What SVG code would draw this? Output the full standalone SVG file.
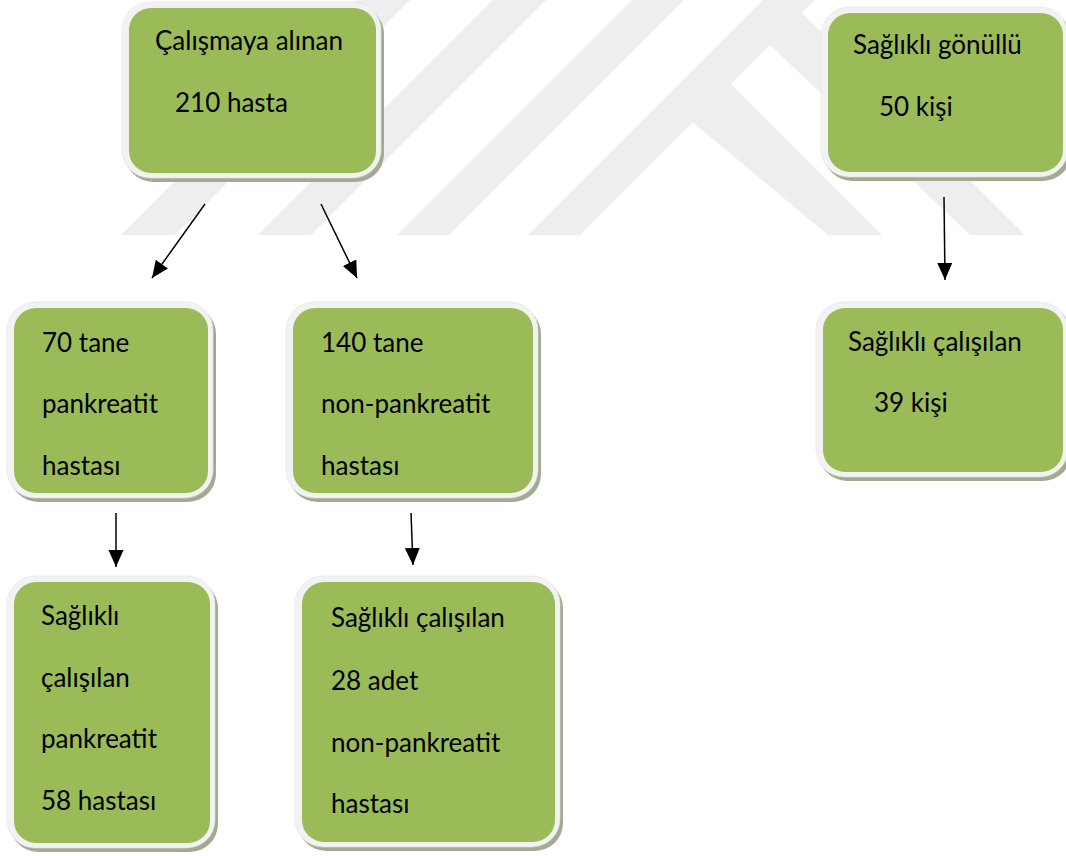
<svg xmlns="http://www.w3.org/2000/svg" width="1066" height="856" viewBox="0 0 1066 856">
<defs>
<style>
.wm{fill:#eeeeee}
.sh{fill:#a2aa90}
.fr{fill:#f2f2f2;stroke:#e2e2e2;stroke-width:0.6}
.gr{fill:#9bbb59}
.t{font-family:Lato,"Liberation Sans",sans-serif;font-size:26px;fill:#000000}
.ln{stroke:#000000;stroke-width:1.5;fill:none;marker-end:url(#ah)}
</style>
<marker id="ah" markerUnits="userSpaceOnUse" markerWidth="18" markerHeight="16" refX="17" refY="7.5" orient="auto">
<path d="M0,0 L17,7.5 L0,15 Z" fill="#000000"/>
</marker>
</defs>
<rect width="1066" height="856" fill="#ffffff"/>
<g id="watermark">
<polygon class="wm" points="356,0 410,0 175,235 121,235"/>
<polygon class="wm" points="493,0 546,0 311,235 258,235"/>
<polygon class="wm" points="632,0 684,0 449,235 397,235"/>
<polygon class="wm" points="763,0 815,0 580,235 528,235"/>
<polygon class="wm" points="700,107 731,84 882,235 828,235 690,120"/>
<polygon class="wm" points="770,45 802,13 1025,235 970,235"/>
</g>
<g id="connectors">
<line class="ln" x1="205" y1="204" x2="152" y2="278"/>
<line class="ln" x1="321" y1="204" x2="357" y2="278"/>
<line class="ln" x1="944" y1="197" x2="945" y2="280"/>
<line class="ln" x1="116" y1="513" x2="116" y2="567"/>
<line class="ln" x1="411" y1="513" x2="413" y2="565"/>
</g>
<g id="n1">
<rect class="sh" x="125" y="6" width="259" height="176" rx="28"/>
<rect class="fr" x="122" y="2" width="259" height="176" rx="28"/>
<rect class="gr" x="129" y="8" width="247" height="165" rx="22"/>
<text class="t" x="155" y="50">Çalışmaya alınan</text>
<text class="t" x="175" y="112">210 hasta</text>
</g>
<g id="n2">
<rect class="sh" x="824" y="11" width="247" height="170" rx="28"/>
<rect class="fr" x="821" y="7" width="247" height="170" rx="28"/>
<rect class="gr" x="828" y="13" width="235" height="159" rx="22"/>
<text class="t" x="853" y="54">Sağlıklı gönüllü</text>
<text class="t" x="879" y="116">50 kişi</text>
</g>
<g id="n3">
<rect class="sh" x="10" y="306" width="206" height="196" rx="28"/>
<rect class="fr" x="7" y="302" width="206" height="196" rx="28"/>
<rect class="gr" x="14" y="308" width="194" height="185" rx="22"/>
<text class="t" x="42" y="352">70 tane</text>
<text class="t" x="42" y="413">pankreatit</text>
<text class="t" x="42" y="475">hastası</text>
</g>
<g id="n4">
<rect class="sh" x="289" y="306" width="252" height="196" rx="28"/>
<rect class="fr" x="286" y="302" width="252" height="196" rx="28"/>
<rect class="gr" x="293" y="308" width="240" height="185" rx="22"/>
<text class="t" x="321" y="352">140 tane</text>
<text class="t" x="321" y="413">non-pankreatit</text>
<text class="t" x="321" y="475">hastası</text>
</g>
<g id="n5">
<rect class="sh" x="10" y="580" width="208" height="272" rx="28"/>
<rect class="fr" x="7" y="576" width="208" height="272" rx="28"/>
<rect class="gr" x="14" y="582" width="196" height="261" rx="22"/>
<text class="t" x="41" y="625">Sağlıklı</text>
<text class="t" x="41" y="687">çalışılan</text>
<text class="t" x="41" y="748">pankreatit</text>
<text class="t" x="41" y="810">58 hastası</text>
</g>
<g id="n6">
<rect class="sh" x="298" y="580" width="265" height="271" rx="28"/>
<rect class="fr" x="295" y="576" width="265" height="271" rx="28"/>
<rect class="gr" x="302" y="582" width="253" height="260" rx="22"/>
<text class="t" x="331" y="627">Sağlıklı çalışılan</text>
<text class="t" x="331" y="690">28 adet</text>
<text class="t" x="331" y="752">non-pankreatit</text>
<text class="t" x="331" y="813">hastası</text>
</g>
<g id="n7">
<rect class="sh" x="819" y="306" width="252" height="175" rx="28"/>
<rect class="fr" x="816" y="302" width="252" height="175" rx="28"/>
<rect class="gr" x="823" y="308" width="240" height="164" rx="22"/>
<text class="t" x="848" y="351">Sağlıklı çalışılan</text>
<text class="t" x="874" y="412">39 kişi</text>
</g>
</svg>
